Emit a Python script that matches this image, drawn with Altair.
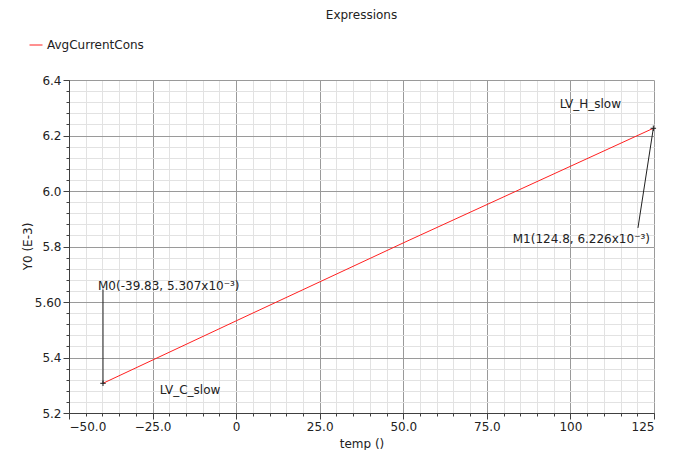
import altair as alt
import pandas as pd

# ---- data ----
series_name = ["AvgCurrentCons"]
temp = [-39.83, 0.0, 50.0, 124.8]
avg_current = [5.307, 5.532, 5.813, 6.226]  # units of 1e-3

x_major = [-50, -25, 0, 25, 50, 75, 100, 125]
x_minor = [v for v in range(-50, 126, 5)]
y_major = [5.2, 5.4, 5.6, 5.8, 6.0, 6.2, 6.4]
y_minor = [round(5.2 + 0.04 * i, 2) for i in range(31)]

marker_x = [-39.83, 124.8]
marker_y = [5.307, 6.226]
marker_end_x = [-39.83, 120.2]
marker_end_y = [5.645, 5.867]
marker_label = ["M0(-39.83, 5.307x10⁻³)", "M1(124.8, 6.226x10⁻³)"]
corner_label = ["LV_C_slow", "LV_H_slow"]

FONT = "DejaVu Sans"

line_df = pd.DataFrame({"temp": temp, "y": avg_current, "series": series_name * len(temp)})
mk_df = pd.DataFrame({"temp": marker_x, "y": marker_y, "x2": marker_end_x, "y2": marker_end_y,
                      "label": marker_label, "corner": corner_label})

xs = alt.Scale(domain=[-50, 125], nice=False, zero=False)
ys = alt.Scale(domain=[5.2, 6.4], nice=False, zero=False)

minor = alt.Chart(line_df).mark_point(opacity=0).encode(
    x=alt.X("temp:Q", scale=xs, axis=alt.Axis(orient="bottom", values=x_minor, grid=True,
            gridColor="#e2e2e2", labels=False, domain=False, tickSize=3, tickColor="#404040",
            title=None)),
    y=alt.Y("y:Q", scale=ys, axis=alt.Axis(orient="left", values=y_minor, grid=True,
            gridColor="#e2e2e2", labels=False, domain=False, tickSize=3, tickColor="#404040",
            title=None)),
)

x_label_expr = "(abs(datum.value) >= 100 || datum.value == 0) ? format(datum.value, 'd') : format(datum.value, '.1f')"
y_label_expr = "abs(datum.value - 5.6) < 1e-6 ? '5.60' : format(datum.value, '.1f')"

x_axis = alt.Axis(orient="bottom", values=x_major, grid=True,
                  gridColor="#9a9a9a", labelExpr=x_label_expr, domainColor="#404040",
                  tickColor="#404040", tickSize=6, labelPadding=2, labelFont=FONT, labelFontSize=12,
                  labelColor="#222", title="temp ()", titleFont=FONT, titleFontSize=12,
                  titleFontWeight="normal", titleColor="#222", titleY=30, titleBaseline="middle")
y_axis = alt.Axis(orient="left", values=y_major, grid=True,
                  gridColor="#9a9a9a", labelExpr=y_label_expr, domainColor="#404040",
                  tickColor="#404040", tickSize=6, labelPadding=2, labelFont=FONT, labelFontSize=12,
                  labelColor="#222", title="Y0 (E-3)", titleFont=FONT, titleFontSize=12,
                  titleFontWeight="normal", titleColor="#222", titleX=-42, titleY=166,
                  titleBaseline="middle", titleAlign="center")

X = alt.X("temp:Q", scale=xs, axis=x_axis)
Y = alt.Y("y:Q", scale=ys, axis=y_axis)
X2 = alt.X("x2:Q", scale=xs, axis=x_axis)
Y2 = alt.Y("y2:Q", scale=ys, axis=y_axis)

line = alt.Chart(line_df).mark_line(strokeWidth=1).encode(
    x=X, y=Y,
    color=alt.Color("series:N", scale=alt.Scale(range=["#ff2020"]),
                    legend=alt.Legend(orient="none", legendX=-40, legendY=-42, title=None,
                                      symbolType="stroke", symbolSize=169, symbolStrokeWidth=1,
                                      labelFont=FONT, labelFontSize=12, labelColor="#222")),
)

leader = alt.Chart(mk_df).mark_rule(color="#202020", strokeWidth=1).encode(
    x=X, y=Y, x2="x2:Q", y2="y2:Q")

cross = alt.Chart(mk_df).mark_point(shape="M-1,0L1,0M0,-1L0,1", size=30, filled=False,
                                     color="#202020", strokeWidth=1, opacity=1).encode(x=X, y=Y)

m_text0 = alt.Chart(mk_df.iloc[[0]]).mark_text(align="left", baseline="alphabetic", dx=-5, dy=0,
                                                font=FONT, fontSize=12, color="#222").encode(
    x=X2, y=Y2, text="label:N")
m_text1 = alt.Chart(mk_df.iloc[[1]]).mark_text(align="right", baseline="alphabetic", dx=12, dy=15,
                                                font=FONT, fontSize=12, color="#222").encode(
    x=X2, y=Y2, text="label:N")

c_text0 = alt.Chart(mk_df.iloc[[0]]).mark_text(align="center", baseline="middle", dx=87, dy=7,
                                                font=FONT, fontSize=12, color="#222").encode(
    x=X, y=Y, text="corner:N")
c_text1 = alt.Chart(mk_df.iloc[[1]]).mark_text(align="center", baseline="middle", dx=-63, dy=-24,
                                                font=FONT, fontSize=12, color="#222").encode(
    x=X, y=Y, text="corner:N")

main = alt.layer(line, leader, cross, m_text0, m_text1, c_text0, c_text1)

chart = alt.layer(minor, main).resolve_axis(
    x="independent", y="independent"
).properties(
    width=585, height=333,
    title=alt.TitleParams("Expressions", font=FONT, fontSize=12, fontWeight="normal",
                          color="#222", anchor="middle", offset=16),
    autosize=alt.AutoSizeParams(type="none"),
    padding={"left": 61, "top": 72, "right": 22, "bottom": 37},
).configure_view(stroke="#404040", strokeWidth=1).configure(background="white")

chart.save("out.html", embed_options={"renderer": "svg", "actions": False})
